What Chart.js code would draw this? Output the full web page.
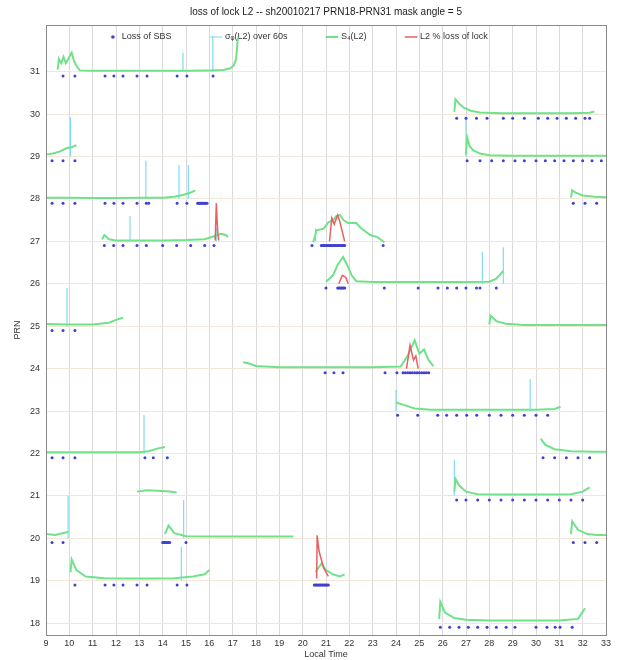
<!DOCTYPE html>
<html>
<head>
<meta charset="utf-8">
<script src="https://cdn.jsdelivr.net/npm/chart.js@4/dist/chart.umd.min.js"></script>
<style>
  html, body { margin: 0; padding: 0; background: #fff; }
  #wrap { width: 618px; height: 660px; }
</style>
</head>
<body>
<div id="wrap"><canvas id="c" width="618" height="660"></canvas></div>
<script>
// Axis ticks
const hourTicks = [9,10,11,12,13,14,15,16,17,18,19,20,21,22,23,24,25,26,27,28,29,30,31,32,33];
const prnTicks = [18,19,20,21,22,23,24,25,26,27,28,29,30,31];

// S4(L2) traces, one per satellite pass: [local time, plotted level]
const s4Curves = [
  [[9.5,31.05],[9.55,31.3],[9.65,31.2],[9.75,31.35],[9.85,31.2],[9.95,31.3],[10.1,31.45],[10.2,31.25],[10.35,31.1],[10.45,31.03],[11,31.02],[12,31.02],[13,31.02],[14,31.02],[15,31.02],[16,31.03],[16.6,31.04],[16.9,31.08],[17.05,31.15],[17.15,31.3],[17.22,31.8]],
  [[26.5,30.05],[26.55,30.35],[26.7,30.25],[26.9,30.15],[27.2,30.08],[27.6,30.04],[28.5,30.02],[30,30.02],[31.5,30.02],[32.3,30.03],[32.5,30.06]],
  [[9.02,29.05],[9.3,29.07],[9.6,29.12],[9.9,29.2],[10.1,29.22],[10.3,29.27]],
  [[27,29.05],[27.05,29.45],[27.15,29.25],[27.3,29.15],[27.6,29.07],[28,29.03],[29,29.02],[30,29.02],[31,29.02],[32,29.02],[33,29.02]],
  [[9.02,28.03],[10,28.03],[11,28.02],[12,28.02],[13,28.03],[14,28.03],[14.5,28.05],[14.9,28.1],[15.2,28.15],[15.4,28.2]],
  [[31.5,28.03],[31.55,28.2],[31.7,28.15],[32,28.08],[32.5,28.05],[33,28.04]],
  [[11.4,27.05],[11.5,27.15],[11.7,27.05],[12,27.02],[13,27.02],[14,27.02],[15,27.03],[15.8,27.05],[16.2,27.12],[16.5,27.18],[16.7,27.15],[16.8,27.1]],
  [[20.45,26.98],[20.6,27.26],[20.9,27.3],[21.1,27.45],[21.3,27.5],[21.45,27.6],[21.6,27.62],[21.75,27.5],[21.95,27.43],[22.3,27.43],[22.5,27.31],[22.9,27.15],[23.2,27.1],[23.5,26.98]],
  [[21.0,26.05],[21.3,26.2],[21.5,26.45],[21.73,26.63],[21.9,26.45],[22.1,26.2],[22.3,26.06],[23,26.04],[24,26.04],[25,26.04],[26,26.04],[27,26.04],[28,26.05],[28.3,26.12],[28.6,26.3]],
  [[9.02,25.05],[10,25.04],[11,25.04],[11.7,25.08],[12.0,25.15],[12.3,25.2]],
  [[28.0,25.04],[28.05,25.25],[28.3,25.12],[28.7,25.06],[29.5,25.03],[30.5,25.03],[31.5,25.03],[33,25.03]],
  [[17.45,24.15],[17.7,24.12],[18.0,24.06],[19,24.03],[20,24.03],[21,24.03],[22,24.03],[23,24.03],[24.2,24.05],[24.5,24.3],[24.8,24.67],[25.0,24.35],[25.2,24.45],[25.4,24.2],[25.6,24.06]],
  [[24.0,23.2],[24.3,23.15],[24.8,23.06],[25.5,23.03],[27,23.03],[28.5,23.03],[30,23.03],[30.8,23.05],[31.05,23.1]],
  [[9.02,22.03],[10,22.03],[11,22.03],[12,22.03],[13,22.03],[13.4,22.05],[13.8,22.12],[14.1,22.15]],
  [[30.2,22.35],[30.4,22.2],[30.8,22.1],[31.5,22.05],[32.5,22.04],[33,22.04]],
  [[12.9,21.1],[13.3,21.13],[13.8,21.12],[14.3,21.1],[14.6,21.08]],
  [[26.5,21.1],[26.55,21.4],[26.7,21.25],[27.0,21.1],[27.5,21.04],[28.5,21.03],[30,21.03],[31.5,21.04],[32.0,21.1],[32.3,21.2]],
  [[9.02,20.1],[9.4,20.08],[9.7,20.12],[9.95,20.15]],
  [[14.1,20.1],[14.25,20.3],[14.5,20.12],[15,20.05],[16,20.04],[17,20.04],[18,20.04],[19,20.04],[19.6,20.04]],
  [[31.5,20.1],[31.55,20.4],[31.8,20.2],[32.2,20.1],[32.6,20.08],[33,20.08]],
  [[10.05,19.2],[10.1,19.5],[10.3,19.25],[10.7,19.1],[11.5,19.06],[12.5,19.05],[13.5,19.05],[14.5,19.06],[15.3,19.1],[15.8,19.15],[16.0,19.25]],
  [[20.55,19.2],[20.8,19.4],[21.0,19.25],[21.3,19.15],[21.6,19.1],[21.8,19.15]],
  [[25.85,18.1],[25.9,18.5],[26.1,18.25],[26.5,18.12],[27,18.08],[28,18.06],[29,18.06],[30,18.06],[31,18.06],[31.8,18.1],[32.1,18.35]]
];

// sigma-phi(L2) over 60 s spikes: [local time, PRN, peak level]
const sigmaSpikes = [
  [14.87,31,31.45],[16.15,31,31.85],
  [10.05,29,29.93],[27.0,29,29.9],
  [13.28,28,28.9],[14.7,28,28.8],[15.1,28,28.8],
  [12.6,27,27.6],[16.3,27,27.3],[20.55,27,27.3],
  [27.7,26,26.75],[28.6,26,26.86],
  [9.9,25,25.9],
  [29.75,23,23.75],[24.0,23,23.5],
  [13.2,22,22.9],
  [26.5,21,21.85],
  [9.95,20,21.0],[14.9,20,20.9],
  [14.8,19,19.8]
];

// Loss-of-lock events marked below each PRN line
const lossPRN = [31,30,29,29,28,28,27,27,26,25,24,23,22,22,21,20,20,20,19,19,18];
const lossTimes = [
  [9.73,10.24,11.53,11.91,12.3,12.9,13.33,14.62,15.04,16.16],
  [26.6,27.0,27.45,27.9,28.6,29.0,29.5,30.1,30.5,30.9,31.3,31.7,32.1,32.3],
  [9.26,9.73,10.24],
  [27.05,27.6,28.1,28.6,29.1,29.5,30.0,30.4,30.8,31.2,31.6,32.0,32.4,32.8],
  [9.26,9.73,10.24,11.53,11.91,12.3,12.9,13.3,13.4,14.62,15.04,15.5,15.55,15.6,15.65,15.7,15.75,15.8,15.85,15.9],
  [31.6,32.1,32.6],
  [11.5,11.9,12.3,12.9,13.3,14.0,14.6,15.2,15.8,16.2],
  [20.4,20.8,20.85,20.9,20.95,21.0,21.05,21.1,21.15,21.2,21.25,21.3,21.35,21.4,21.45,21.5,21.55,21.6,21.65,21.7,21.75,21.8,23.45],
  [21.0,21.5,21.55,21.6,21.65,21.7,21.75,21.8,23.5,24.95,25.8,26.2,26.6,27.0,27.45,27.6,28.3],
  [9.26,9.73,10.24],
  [20.96,21.34,21.73,23.53,24.04,24.3,24.4,24.5,24.6,24.7,24.8,24.9,25.0,25.1,25.2,25.3,25.4],
  [24.07,24.93,25.79,26.17,26.6,27.03,27.46,28.0,28.5,29.0,29.5,30.0,30.5],
  [9.26,9.73,10.24,13.24,13.6,14.2],
  [30.3,30.8,31.3,31.8,32.3],
  [26.6,27.0,27.5,28.0,28.5,29.0,29.5,30.0,30.5,31.0,31.5,32.0],
  [9.26,9.73],
  [14.0,14.05,14.1,14.15,14.2,14.25,14.3,15.0],
  [31.6,32.1,32.6],
  [10.24,11.53,11.91,12.3,12.9,13.33,14.62,15.04],
  [20.5,20.55,20.6,20.65,20.7,20.75,20.8,20.85,20.9,20.95,21.0,21.05,21.1],
  [25.9,26.3,26.7,27.1,27.5,27.9,28.3,28.72,29.1,30.0,30.47,30.82,31.03,31.55]
];

// L2 % loss of lock traces: [local time, plotted level]
const l2LossCurves = [
  [[16.25,27.02],[16.3,27.9],[16.35,27.3],[16.4,27.02]],
  [[21.15,27.0],[21.25,27.55],[21.35,27.4],[21.5,27.62],[21.6,27.45],[21.8,27.0]],
  [[21.55,26.0],[21.7,26.2],[21.85,26.15],[21.95,26.0]],
  [[24.45,24.0],[24.6,24.55],[24.75,24.2],[24.85,24.3],[24.95,24.0]],
  [[20.6,19.05],[20.62,20.07],[20.7,19.7],[20.8,19.5],[20.9,19.3],[21.0,19.2],[21.1,19.1]]
];

function joinTraces(traces) {
  const out = [];
  traces.forEach(tr => {
    tr.forEach(p => out.push({x: p[0], y: p[1]}));
    out.push({x: tr[tr.length - 1][0], y: null});
  });
  return out;
}

const s4Data = joinTraces(s4Curves);
const l2Data = joinTraces(l2LossCurves);
const sigmaData = [];
sigmaSpikes.forEach(s => {
  sigmaData.push({x: s[0], y: s[1]});
  sigmaData.push({x: s[0], y: s[2]});
  sigmaData.push({x: s[0], y: null});
});
const lossData = [];
lossTimes.forEach((ts, i) => ts.forEach(t => lossData.push({x: t, y: lossPRN[i] - 0.1})));

const FONT = '"Liberation Sans", Arial, sans-serif';
const DOT_COLOR = '#4040d0';
const LEGEND_PAD = 40;

// small dot used as the legend symbol of the loss markers
const dotIcon = document.createElement('canvas');
dotIcon.width = 6; dotIcon.height = 6;
(function () {
  const g = dotIcon.getContext('2d');
  g.fillStyle = DOT_COLOR;
  g.beginPath(); g.arc(3, 3, 1.8, 0, Math.PI * 2); g.fill();
})();

const titlePlugin = {
  id: 'topTitle',
  afterDraw(chart) {
    const ctx = chart.ctx;
    const a = chart.chartArea;
    ctx.save();
    ctx.strokeStyle = '#8a8a8a';
    ctx.lineWidth = 1;
    ctx.strokeRect(Math.round(a.left) + 0.5, Math.round(a.top) + 0.5, Math.round(a.right - a.left), Math.round(a.bottom - a.top));
    ctx.font = '10px ' + FONT;
    ctx.fillStyle = '#222';
    ctx.textAlign = 'center';
    ctx.textBaseline = 'middle';
    ctx.fillText('loss of lock L2 -- sh20010217 PRN18-PRN31 mask angle = 5', (a.left + a.right) / 2, 12);
    ctx.restore();
  }
};

// keeps the legend row inside the top of the plot area
const legendInside = {
  id: 'legendInside',
  beforeLayout(chart) {
    const lg = chart.legend;
    if (lg && !lg._insidePatched) {
      const fit = lg.fit;
      lg.fit = function () { fit.call(this); this._fullHeight = this.height; this.height = 0; };
      lg._insidePatched = true;
    }
  },
  afterUpdate(chart) {
    const lg = chart.legend;
    if (!lg) return;
    const rowCenter = chart.chartArea.top + 12;
    const dy = (rowCenter - LEGEND_PAD - 4.5) - lg.top;
    lg.top += dy;
    lg.height = lg._fullHeight;
    lg.bottom = lg.top + lg.height;
    lg.left = 0; lg.right = 596; lg.width = 596;
    (lg.legendHitBoxes || []).forEach(h => { h.top += dy; });
  }
};

new Chart(document.getElementById('c'), {
  type: 'scatter',
  data: {
    datasets: [
      {
        label: 'Loss of SBS',
        data: lossData,
        backgroundColor: DOT_COLOR,
        borderColor: DOT_COLOR,
        pointRadius: 1.5,
        pointBorderWidth: 0,
        order: 1
      },
      {
        label: 'σᵩ(L2) over 60s',
        data: sigmaData,
        showLine: true,
        borderColor: '#7fdcf0',
        borderWidth: 1.2,
        pointRadius: 0,
        spanGaps: false,
        order: 3
      },
      {
        label: 'S₄(L2)',
        data: s4Data,
        showLine: true,
        borderColor: '#6fe28a',
        borderWidth: 2,
        pointRadius: 0,
        spanGaps: false,
        order: 2
      },
      {
        label: 'L2 % loss of lock',
        data: l2Data,
        showLine: true,
        borderColor: '#e86060',
        borderWidth: 1.5,
        pointRadius: 0,
        spanGaps: false,
        order: 0
      }
    ]
  },
  options: {
    responsive: false,
    animation: false,
    layout: { padding: { top: 25, right: 12, left: 0, bottom: 0 } },
    plugins: {
      title: { display: false },
      tooltip: { enabled: false },
      legend: {
        position: 'top',
        align: 'center',
        labels: {
          usePointStyle: true,
          boxWidth: 9,
          boxHeight: 9,
          padding: LEGEND_PAD,
          font: { family: FONT, size: 9 },
          color: '#333',
          sort: (a, b) => a.datasetIndex - b.datasetIndex,
          generateLabels(chart) {
            const items = Chart.defaults.plugins.legend.labels.generateLabels(chart);
            items.forEach(it => { it.pointStyle = it.datasetIndex === 0 ? dotIcon : 'line'; });
            return items;
          }
        }
      }
    },
    scales: {
      x: {
        type: 'linear',
        min: 9, max: 33,
        afterBuildTicks: s => { s.ticks = hourTicks.map(v => ({value: v})); },
        afterFit: s => { s.height = 25; },
        ticks: { font: { family: FONT, size: 9 }, color: '#333', padding: 3, maxRotation: 0 },
        grid: { color: '#dadada', lineWidth: 1, drawTicks: false },
        border: { color: '#8a8a8a' },
        title: { display: true, text: 'Local Time', font: { family: FONT, size: 9 }, color: '#333', padding: 0 }
      },
      y: {
        type: 'linear',
        min: 17.72, max: 32.1,
        afterBuildTicks: s => { s.ticks = prnTicks.map(v => ({value: v})); },
        afterFit: s => { s.width = 46; },
        ticks: { font: { family: FONT, size: 9 }, color: '#333', padding: 6 },
        grid: { color: '#f1e6d8', lineWidth: 1, drawTicks: false },
        border: { color: '#8a8a8a' },
        title: { display: true, text: 'PRN', font: { family: FONT, size: 9 }, color: '#333', padding: { top: 12, bottom: 0 } }
      }
    }
  },
  plugins: [titlePlugin, legendInside]
});
</script>
</body>
</html>
